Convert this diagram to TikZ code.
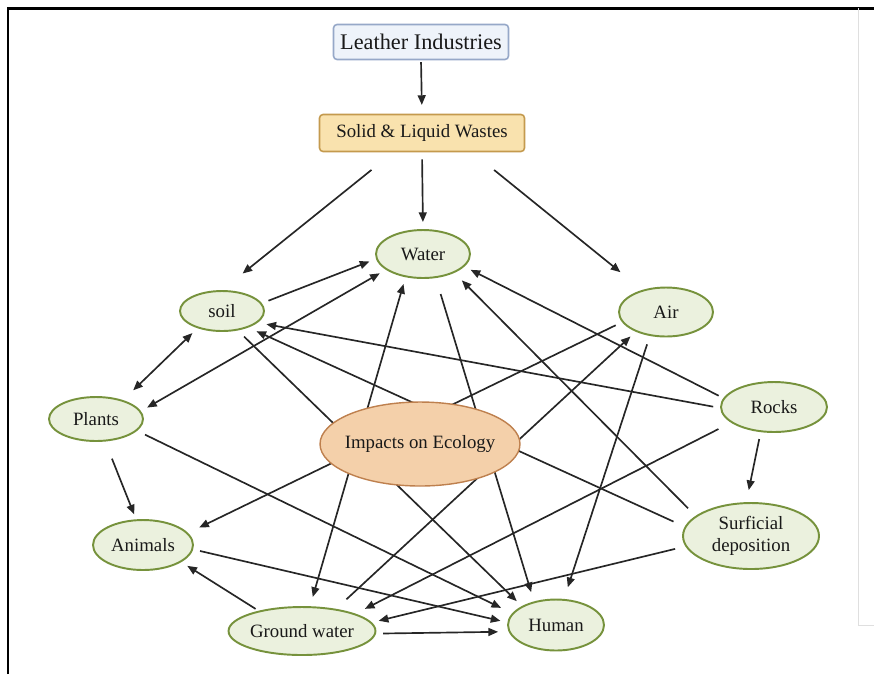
\documentclass[tikz,border=0pt]{standalone}
\usepackage{fontspec}
\setmainfont{Liberation Serif}
\usetikzlibrary{shapes.geometric, arrows.meta}
\pgfdeclarelayer{sfondo}
\pgfsetlayers{sfondo,main}

\definecolor{verdechiaro}{RGB}{235,241,222}
\definecolor{verdebordo}{RGB}{118,146,60}
\definecolor{pesca}{RGB}{244,208,170}
\definecolor{pescabordo}{RGB}{190,128,78}
\definecolor{oro}{RGB}{249,226,174}
\definecolor{orobordo}{RGB}{196,154,78}
\definecolor{azzurrino}{RGB}{238,243,250}
\definecolor{azzurrobordo}{RGB}{150,168,200}

\begin{document}
\begin{tikzpicture}[x=0.02cm, y=-0.02cm,
        testo/.style={font=\fontsize{10.7}{12.5}\selectfont, text=black!90},
        cerchio/.style={testo, ellipse, draw=verdebordo, line width=1.1pt, fill=verdechiaro, inner sep=0pt},
        freccia/.style={-{Triangle[length=5.5pt,width=4.5pt]}, line width=0.95pt, black!85, shorten <=4pt, shorten >=4pt},
        doppia/.style={freccia, {Triangle[length=5.5pt,width=4.5pt]}-{Triangle[length=5.5pt,width=4.5pt]}}]
        \useasboundingbox (0,0) rectangle (874,674);

        %cornice
        \draw[line width=1.7pt] (8,674) -- (8,8) -- (874,8);
        \draw[gray!25, line width=0.5pt] (858,8) -- (858,625) -- (874,625);

        %riquadri in alto
        \node[testo, draw=azzurrobordo, fill=azzurrino, rounded corners=2pt, line width=0.9pt, minimum width=3.5cm, minimum height=0.7cm, font=\fontsize{12.7}{14}\selectfont] (leather) at (421,42) {Leather Industries};
        \node[testo, draw=orobordo, fill=oro, rounded corners=2pt, line width=0.9pt, minimum width=4.1cm, minimum height=0.74cm] (wastes) at (422,133) {Solid \& Liquid Wastes};

        %nodi
        \node[cerchio, minimum width=1.88cm, minimum height=0.96cm] (water) at (423,254) {Water};
        \node[cerchio, minimum width=1.68cm, minimum height=0.80cm] (soil) at (222,311) {soil};
        \node[cerchio, minimum width=1.88cm, minimum height=0.98cm] (air) at (666,312) {Air};
        \node[cerchio, minimum width=1.88cm, minimum height=0.88cm] (plants) at (96,419) {Plants};
        \node[cerchio, minimum width=2.12cm, minimum height=1.00cm] (rocks) at (774,407) {Rocks};
        \node[cerchio, minimum width=2.00cm, minimum height=1.00cm] (animals) at (143,545) {Animals};
        \node[cerchio, minimum width=2.72cm, minimum height=1.32cm, align=center] (surficial) at (751,536) {Surficial\\deposition};
        \node[cerchio, minimum width=2.88cm, minimum height=0.96cm] (ground) at (302,631) {Ground water};
        \node[cerchio, minimum width=1.92cm, minimum height=1.02cm] (human) at (556,625) {Human};
        \node[testo, ellipse, draw=pescabordo, fill=pesca, line width=0.8pt, inner xsep=-5pt, inner ysep=0pt, minimum width=4.0cm, minimum height=1.68cm] (impacts) at (420,444) {Impacts on Ecology};

        %frecce
        \begin{pgfonlayer}{sfondo}
        \draw[freccia, shorten <=1pt, shorten >=5pt] (leather.south) -- (wastes.north);
        \draw[freccia, shorten <=16pt, shorten >=15pt] (wastes.214) -- (soil.north);
        \draw[freccia] (wastes.south) -- (water.north);
        \draw[freccia, shorten <=16pt, shorten >=16pt] (wastes.339) -- (air.137);
        \draw[freccia] (soil.11) -- (water.186);
        \draw[doppia] (plants.10) -- (water.203);
        \draw[doppia, shorten >=8pt] (soil.215) -- (plants.35);
        \draw[freccia, shorten >=5pt] (rocks.181) -- (soil.342);
        \draw[freccia, shorten <=7pt, shorten >=5pt] (surficial.172) -- (soil.328);
        \draw[freccia, shorten <=5pt] (soil.309) -- (human.151);
        \draw[doppia, shorten >=5.5pt] (water.233) -- (ground.72);
        \draw[freccia, shorten <=9.5pt, shorten >=5.5pt] (water.298) -- (human.133);
        \draw[freccia, shorten <=6pt, shorten >=6pt] (surficial.160) -- (water.329);
        \draw[freccia, shorten <=3pt] (rocks.170) -- (water.343);
        \draw[freccia, shorten >=7pt] (air.193) -- (animals.15);
        \draw[freccia, shorten <=8pt] (ground.33) -- (air.213);
        \draw[freccia, shorten <=5pt, shorten >=7pt] (air.236) -- (human.73);
        \draw[freccia, shorten <=8pt, shorten >=6pt] (rocks.200) -- (ground.18);
        \draw[freccia, shorten >=7pt] (rocks.242) -- (surficial.98);
        \draw[freccia, shorten <=6pt] (surficial.189) -- (ground.7);
        \draw[freccia, shorten <=10.5pt, shorten >=3pt] (plants.292) -- (animals.105);
        \draw[freccia, shorten <=5pt, shorten >=7pt] (plants.344) -- (human.165);
        \draw[freccia] (animals.355) -- (human.177);
        \draw[freccia, shorten <=2pt] (ground.155) -- (animals.336);
        \draw[freccia, shorten >=6pt] (ground.358) -- (human.188);
        \end{pgfonlayer}
\end{tikzpicture}
\end{document}
